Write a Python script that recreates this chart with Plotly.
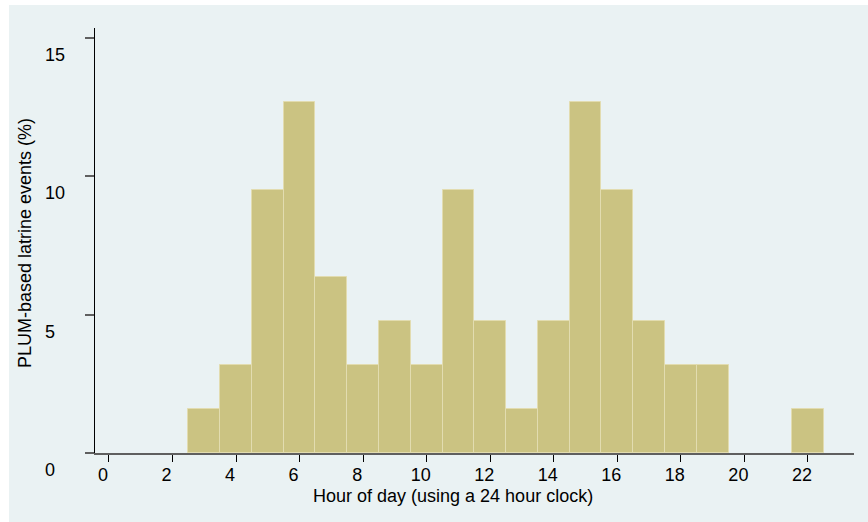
import plotly.graph_objects as go

# Share of PLUM-based latrine events by hour of day (1-hour bins, empty bins omitted)
hours = [3, 4, 5, 6, 7, 8, 9, 10, 11, 12, 13, 14, 15, 16, 17, 18, 19, 22]
percent = [1.59, 3.17, 9.52, 12.70, 6.35, 3.17, 4.76, 3.17, 9.52, 4.76,
           1.59, 4.76, 12.70, 9.52, 4.76, 3.17, 3.17, 1.59]

x_ticks = list(range(0, 23, 2))
y_ticks = [0, 5, 10, 15]

FONT = "Liberation Sans, Arial, sans-serif"
BG = "#eaf2f3"
BAR = "#cbc382"

W, H = 868, 522
L, R, T, B = 95, 14, 28, 69
pw, ph = W - L - R, H - T - B


def px_x(p):
    return (p - L) / pw


def px_y(p):
    return (H - B - p) / ph


fig = go.Figure()
fig.add_trace(go.Bar(
    x=hours, y=percent, width=1.0,
    marker=dict(color=BAR, line=dict(color="#e2dcb0", width=1)),
    hoverinfo="skip",
))

# outer light bluish-gray panel
fig.add_shape(type="rect", xref="paper", yref="paper",
              x0=px_x(9), x1=px_x(W + 5), y0=px_y(H + 5), y1=px_y(5),
              fillcolor=BG, line=dict(width=0), layer="below")

# y tick labels, left aligned
for v in y_ticks:
    fig.add_annotation(x=px_x(43), xref="paper", y=v, yref="y",
                       text=str(v), showarrow=False, xanchor="left",
                       yanchor="middle", yshift=-17,
                       font=dict(family=FONT, size=18, color="#000000"))

fig.add_annotation(x=px_x(453), xref="paper", y=px_y(496), yref="paper",
                   text="Hour of day (using a 24 hour clock)", showarrow=False,
                   xanchor="center", yanchor="middle",
                   font=dict(family=FONT, size=18, color="#000000"))
fig.add_annotation(x=px_x(25), xref="paper", y=px_y(243), yref="paper",
                   text="PLUM-based latrine events (%)", showarrow=False,
                   textangle=-90, xanchor="center", yanchor="middle",
                   font=dict(family=FONT, size=18, color="#000000"))

fig.update_layout(
    width=W, height=H,
    margin=dict(l=L, r=R, t=T, b=B, autoexpand=False),
    paper_bgcolor="white", plot_bgcolor="white",
    showlegend=False, bargap=0,
    font=dict(family=FONT, size=18, color="#000000"),
    xaxis=dict(
        range=[-0.44, 23.45], tickvals=x_ticks,
        ticktext=[str(t) for t in x_ticks],
        showline=True, linecolor="#5f5f5f", linewidth=1.5,
        ticks="outside", ticklen=7, tickwidth=1, tickcolor="#000000",
        ticklabelshift=-6, ticklabelstandoff=-2,
        showgrid=False, zeroline=False,
        tickfont=dict(family=FONT, size=18, color="#000000"),
    ),
    yaxis=dict(
        range=[0, 15.36], tickvals=y_ticks, showticklabels=False,
        showline=True, linecolor="#000000", linewidth=1,
        ticks="outside", ticklen=9, tickwidth=1.5, tickcolor="#5f5f5f",
        showgrid=True, gridcolor=BG, gridwidth=1, zeroline=False,
    ),
)

fig.write_html("out.html")
